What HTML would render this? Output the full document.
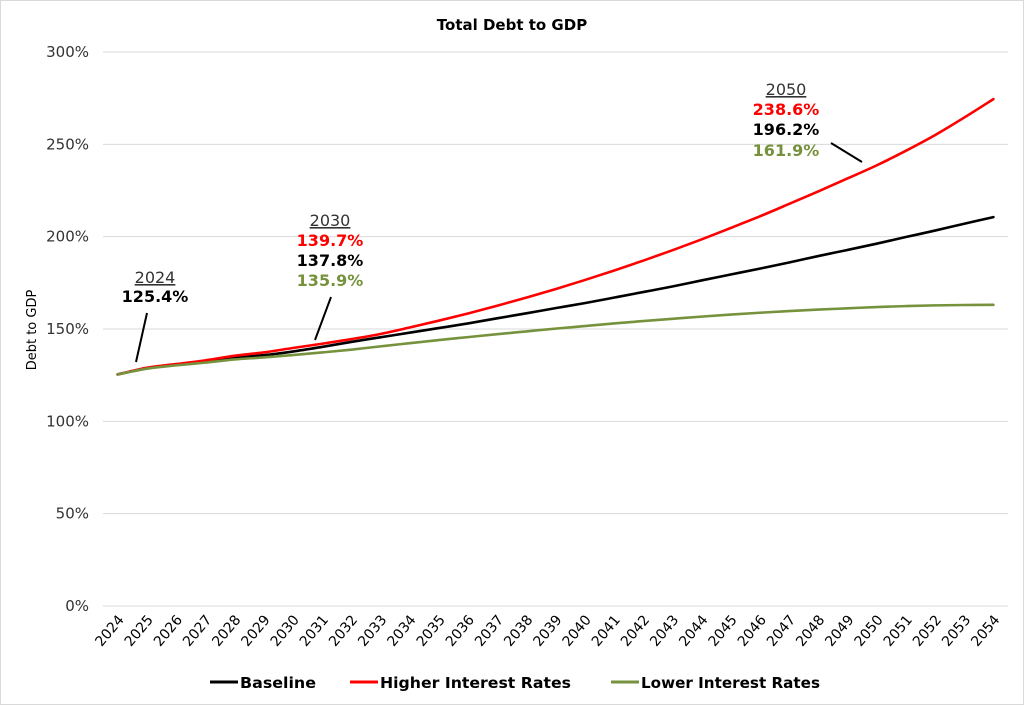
<!DOCTYPE html>
<html><head><meta charset="utf-8"><style>
body{margin:0;background:#fff}
svg{display:block;font-family:"DejaVu Sans","Liberation Sans",sans-serif}
</style></head><body>
<svg width="1024" height="705" viewBox="0 0 1024 705">
<rect x="0.5" y="0.5" width="1023" height="704" fill="#fff" stroke="#d9d9d9"/>
<text x="512" y="30" text-anchor="middle" font-weight="bold" font-size="15">Total Debt to GDP</text>
<text transform="translate(36,330) rotate(-90)" text-anchor="middle" font-size="13">Debt to GDP</text>
<g id="grid"></g><g id="xlabels"></g><g id="lines"></g>
<g font-size="16" text-anchor="middle">
<text x="155" y="283" text-decoration="underline" fill="#333">2024</text>
<text x="155" y="302" font-weight="bold">125.4%</text>
<line x1="147" y1="313" x2="136" y2="362" stroke="#000" stroke-width="2"/>
</g>
<g font-size="16" text-anchor="middle">
<text x="330" y="226" text-decoration="underline" fill="#333">2030</text>
<text x="330" y="246" font-weight="bold" fill="#ff0000">139.7%</text>
<text x="330" y="266" font-weight="bold">137.8%</text>
<text x="330" y="286" font-weight="bold" fill="#76923c">135.9%</text>
<line x1="331" y1="297" x2="315" y2="340" stroke="#000" stroke-width="2"/>
</g>
<g font-size="16" text-anchor="middle">
<text x="786" y="95" text-decoration="underline" fill="#333">2050</text>
<text x="786" y="115" font-weight="bold" fill="#ff0000">238.6%</text>
<text x="786" y="135" font-weight="bold">196.2%</text>
<text x="786" y="156" font-weight="bold" fill="#76923c">161.9%</text>
<line x1="831" y1="143" x2="862" y2="162" stroke="#000" stroke-width="2"/>
</g>
<g font-size="15.5" font-weight="bold">
<g><line x1="210" y1="682" x2="238" y2="682" stroke="#000" stroke-width="3"/><text x="240" y="688" textLength="76" lengthAdjust="spacingAndGlyphs">Baseline</text></g>
<g><line x1="350" y1="682" x2="378" y2="682" stroke="#ff0000" stroke-width="3"/><text x="380" y="688" textLength="191" lengthAdjust="spacingAndGlyphs">Higher Interest Rates</text></g>
<g><line x1="611" y1="682" x2="639" y2="682" stroke="#76923c" stroke-width="3"/><text x="641" y="688" textLength="179" lengthAdjust="spacingAndGlyphs">Lower Interest Rates</text></g>
</g>
</svg>
<script>
const years=[];for(let y=2024;y<=2054;y++)years.push(String(y));
const yTicks=[0,50,100,150,200,250,300];
const baseline=[125.4,128.7,130.8,132.5,134.5,135.8,137.8,140.3,143,145.5,148,150.5,153,155.8,158.5,161.3,164,167,170,173,176.3,179.5,182.7,186,189.5,192.8,196.2,199.8,203.3,207,210.6];
const higher=[125.4,129,131,133,135.5,137.3,139.7,142,144.5,147.3,150.8,154.5,158.4,162.6,167,171.6,176.5,181.6,187,192.6,198.5,204.7,211,217.7,224.5,231.5,238.6,246.5,255,264.5,274.5];
const lower=[125.4,128.5,130.3,131.8,133.5,134.6,135.9,137.3,138.8,140.6,142.3,144,145.6,147.2,148.7,150.2,151.6,153,154.3,155.5,156.7,157.8,158.8,159.7,160.5,161.2,161.9,162.4,162.8,163,163.1];
const NS="http://www.w3.org/2000/svg";
const L=103,R=1008,T=52,B=606,band=(R-L)/years.length;
const xs=i=>L+band*(i+0.5);
const ys=v=>B-(v/300)*(B-T);
function mk(t,a,p){const e=document.createElementNS(NS,t);for(const k in a)e.setAttribute(k,a[k]);p.appendChild(e);return e;}
function smooth(d){
 const p=d.map((v,i)=>[xs(i),ys(v)]);let s='M'+p[0][0]+','+p[0][1];
 for(let i=0;i<p.length-1;i++){
  const a=p[Math.max(0,i-1)],b=p[i],c=p[i+1],e=p[Math.min(p.length-1,i+2)];
  const c1=[b[0]+(c[0]-a[0])/6,b[1]+(c[1]-a[1])/6],c2=[c[0]-(e[0]-b[0])/6,c[1]-(e[1]-b[1])/6];
  s+=` C${c1[0]},${c1[1]} ${c2[0]},${c2[1]} ${c[0]},${c[1]}`;
 }
 return s;
}
const grid=document.getElementById('grid');
yTicks.forEach(v=>{
 const l=mk('line',{x1:L,x2:R,y1:ys(v),y2:ys(v),stroke:'#d9d9d9','stroke-width':1},grid);
 
 
 const t=mk('text',{x:89,y:ys(v)+5,'text-anchor':'end','font-size':15,fill:'#333'},grid);
 t.textContent=v+'%';
 
 
});
const xl=document.getElementById('xlabels');
years.forEach((y,i)=>{
 const t=mk('text',{transform:`translate(${xs(i)+7},${B+14}) rotate(-50)`,'text-anchor':'end','font-size':14},xl);
 t.textContent=y;
 
 
});
const lg=document.getElementById('lines');
[[baseline,'#000','baseline-line'],[higher,'#ff0000','higher-rates-line'],[lower,'#76923c','lower-rates-line']].forEach(([d,c,n])=>{
 const p=mk('path',{d:smooth(d),fill:'none',stroke:c,'stroke-width':2.6,'stroke-linejoin':'round','stroke-linecap':'round'},lg);
 
 
});
</script>
</body></html>
